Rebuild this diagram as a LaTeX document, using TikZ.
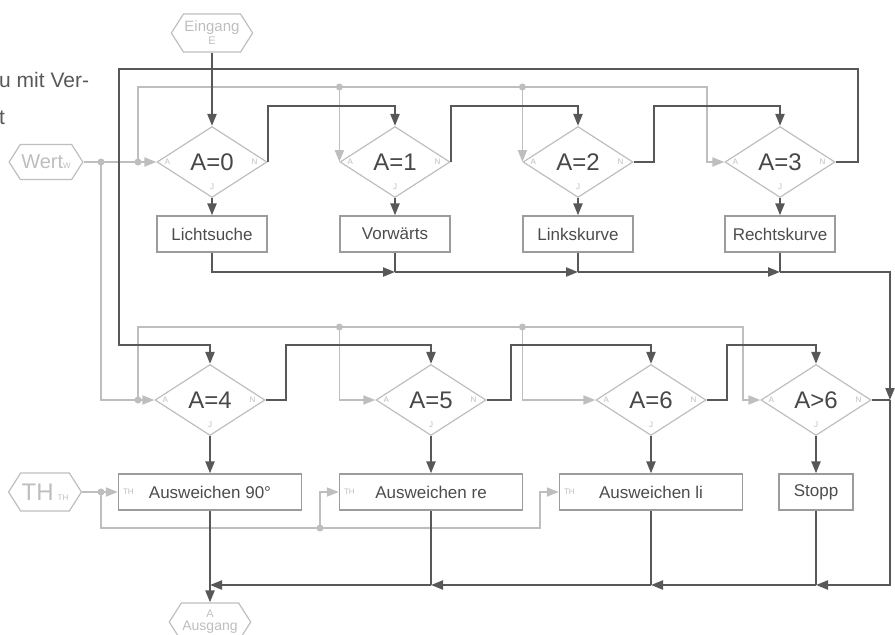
\documentclass[tikz,border=0pt]{standalone}
\usepackage{fontspec}
\setmainfont{Liberation Sans}
\usetikzlibrary{shapes.geometric,shapes.symbols,arrows.meta}
\definecolor{dunkel}{HTML}{585858}
\definecolor{hell}{HTML}{BEBEBE}
\definecolor{rand}{HTML}{9C9C9C}
\begin{document}
\begin{tikzpicture}[x=1pt, y=-1pt,
    >={Triangle[length=12pt,width=9pt]},
    ctrl/.style={draw=dunkel, line width=2.2pt},
    data/.style={draw=hell, line width=1.8pt},
    raute/.style={diamond, draw=hell, line width=1.2pt, minimum width=110pt,
      minimum height=71pt, inner sep=0pt, text=black!72, font=\fontsize{24}{24}\selectfont},
    kasten/.style={rectangle, draw=rand, line width=1.3pt, minimum height=36pt,
      inner sep=0pt, text=black!70, font=\fontsize{17}{17}\selectfont},
    port/.style={signal, signal to=west and east, signal pointer angle=115, draw=hell,
      line width=1.2pt, text=hell, inner sep=1pt, align=center},
    klein/.style={text=hell, font=\fontsize{8}{8}\selectfont, inner sep=0pt},
    punkt/.style={circle, fill=hell, inner sep=0pt, minimum size=7pt}]
    \useasboundingbox (0,0) rectangle (895,635);
    % Textreste vom Rand
    \node[anchor=west, inner sep=0pt, text=black!65, font=\fontsize{21}{21}\selectfont] (txa) at (-1,80) {u mit Ver-};
    \node[anchor=west, inner sep=0pt, text=black!65, font=\fontsize{21}{21}\selectfont] (txb) at (-1,118) {t};
    % Hilfslinien
    \coordinate (sT) at (0,69);
    \coordinate (dA) at (0,87);
    \coordinate (sA) at (0,106);
    \coordinate (oA) at (0,272);
    \coordinate (dB) at (0,327);
    \coordinate (sB) at (0,345);
    \coordinate (tB) at (0,528);
    \coordinate (oB) at (0,585);
    \coordinate (xW) at (101,0);
    \coordinate (xL) at (119,0);
    \coordinate (xV) at (138,0);
    \coordinate (xM) at (540,0);
    \coordinate (xS) at (707,0);
    \coordinate (xT) at (743,0);
    \coordinate (xR) at (890,0);
    % Ein- und Ausgaenge
    \node[port, minimum width=74pt, minimum height=38pt] (ein) at (212,33)
      {{\fontsize{15}{15}\selectfont Eingang}\\[1pt]{\fontsize{11}{11}\selectfont E}};
    \node[port, minimum width=68pt, minimum height=35pt, font=\fontsize{20}{20}\selectfont] (wert) at (46,162)
      {Wert{\fontsize{8}{8}\selectfont W}};
    \node[port, minimum width=66pt, minimum height=38pt, font=\fontsize{24}{24}\selectfont] (th) at (45,492)
      {TH\,{\fontsize{8}{8}\selectfont TH}};
    \node[port, minimum width=75pt, minimum height=38pt] (aus) at (210,622)
      {{\fontsize{11}{11}\selectfont A}\\[1pt]{\fontsize{14}{14}\selectfont Ausgang}};
    % Abfragen
    \node[raute] (d0) at (212,162) {A=0};
    \node[raute] (d1) at (395,162) {A=1};
    \node[raute] (d2) at (578,162) {A=2};
    \node[raute] (d3) at (780,162) {A=3};
    \node[raute] (d4) at (210,400) {A=4};
    \node[raute] (d5) at (431,400) {A=5};
    \node[raute] (d6) at (651,400) {A=6};
    \node[raute] (d7) at (816,400) {A>6};
    \foreach \i in {0,...,7} {
      \node[klein, anchor=west, xshift=8pt] (a\i) at (d\i.west) {A};
      \node[klein, anchor=east, xshift=-10pt] (n\i) at (d\i.east) {N};
      \node[klein, anchor=south, yshift=8pt] (j\i) at (d\i.south) {J};
    }
    % Unterprogramme
    \node[kasten, minimum width=110pt] (b0) at (212,234) {Lichtsuche};
    \node[kasten, minimum width=110pt] (b1) at (395,234) {Vorwärts};
    \node[kasten, minimum width=110pt] (b2) at (578,234) {Linkskurve};
    \node[kasten, minimum width=110pt] (b3) at (780,234) {Rechtskurve};
    \node[kasten, minimum width=183pt] (b4) at (210,492) {Ausweichen 90°};
    \node[kasten, minimum width=183pt] (b5) at (431,492) {Ausweichen re};
    \node[kasten, minimum width=183pt] (b6) at (651,492) {Ausweichen li};
    \node[kasten, minimum width=74pt] (b7) at (816,492) {Stopp};
    \node[klein, anchor=west, xshift=5pt] (t4) at (b4.west) {TH};
    \node[klein, anchor=west, xshift=5pt] (t5) at (b5.west) {TH};
    \node[klein, anchor=west, xshift=5pt] (t6) at (b6.west) {TH};
    % Verzweigungen
    \node[punkt] (p1) at (xW |- d0.west) {};
    \node[punkt] (p2) at (xV |- d0.west) {};
    \node[punkt] (p3) at (xV |- d4.west) {};
    \node[punkt] (p4) at (d1.west |- dA) {};
    \node[punkt] (p5) at (d2.west |- dA) {};
    \node[punkt] (p6) at (d1.west |- dB) {};
    \node[punkt] (p7) at (d2.west |- dB) {};
    \node[punkt] (p8) at (xW |- b4.west) {};
    \node[punkt] (p9) at (320,528) {};
    % Wert
    \draw[data,->] (wert.east) -- (d0.west);
    \draw[data] (p1.center) |- (p3.center);
    \draw[data,->] (p3.center) -- (d4.west);
    \draw[data,->] (p2.center) |- (xS |- dA) |- (d3.west);
    \draw[data,->] (p4.center) -- (d1.west);
    \draw[data,->] (p5.center) -- (d2.west);
    \draw[data,->] (p3.center) |- (xT |- dB) |- (d7.west);
    \draw[data,->] (p6.center) |- (d5.west);
    \draw[data,->] (p7.center) |- (d6.west);
    % TH
    \draw[data,->] (th.east) -- (b4.west);
    \draw[data] (p8.center) |- (p9.center);
    \draw[data,->] (p9.center) |- (b5.west);
    \draw[data,->] (p9.center) -- (xM |- tB) |- (b6.west);
    % Abfragen N
    \draw[ctrl,->] (ein.south) -- (d0.north);
    \draw[ctrl,->] (d0.east) |- (d1.north |- sA) -- (d1.north);
    \draw[ctrl,->] (d1.east) |- (d2.north |- sA) -- (d2.north);
    \draw[ctrl,->] (d2.east) -- ++(20,0) |- (d3.north |- sA) -- (d3.north);
    \draw[ctrl,->] (d3.east) -- ++(22,0) |- (xL |- sT) |- (d4.north |- sB) -- (d4.north);
    \draw[ctrl,->] (d4.east) -- ++(20,0) |- (d5.north |- sB) -- (d5.north);
    \draw[ctrl,->] (d5.east) -- ++(24,0) |- (d6.north |- sB) -- (d6.north);
    \draw[ctrl,->] (d6.east) -- ++(20,0) |- (d7.north |- sB) -- (d7.north);
    % Abfragen J
    \foreach \i in {0,...,7} \draw[ctrl,->] (d\i.south) -- (b\i.north);
    % Sammelleitung oben
    \draw[ctrl,->] (b0.south) |- (b1.south |- oA);
    \draw[ctrl] (b1.south) -- (b1.south |- oA);
    \draw[ctrl,->] (b1.south |- oA) -- (b2.south |- oA);
    \draw[ctrl] (b2.south) -- (b2.south |- oA);
    \draw[ctrl,->] (b2.south |- oA) -- (b3.south |- oA);
    \draw[ctrl] (b3.south) -- (b3.south |- oA);
    \draw[ctrl,->] (b3.south |- oA) -| (xR |- d7.east);
    \draw[ctrl] (d7.east) -- (xR |- d7.east);
    % Sammelleitung unten
    \draw[ctrl,->] (xR |- d7.east) |- (b7.south |- oB);
    \draw[ctrl] (b7.south) -- (b7.south |- oB);
    \draw[ctrl,->] (b7.south |- oB) -- (b6.south |- oB);
    \draw[ctrl] (b6.south) -- (b6.south |- oB);
    \draw[ctrl,->] (b6.south |- oB) -- (b5.south |- oB);
    \draw[ctrl] (b5.south) -- (b5.south |- oB);
    \draw[ctrl,->] (b5.south |- oB) -- (b4.south |- oB);
    \draw[ctrl,->] (b4.south) -- (aus.north);
\end{tikzpicture}
\end{document}
